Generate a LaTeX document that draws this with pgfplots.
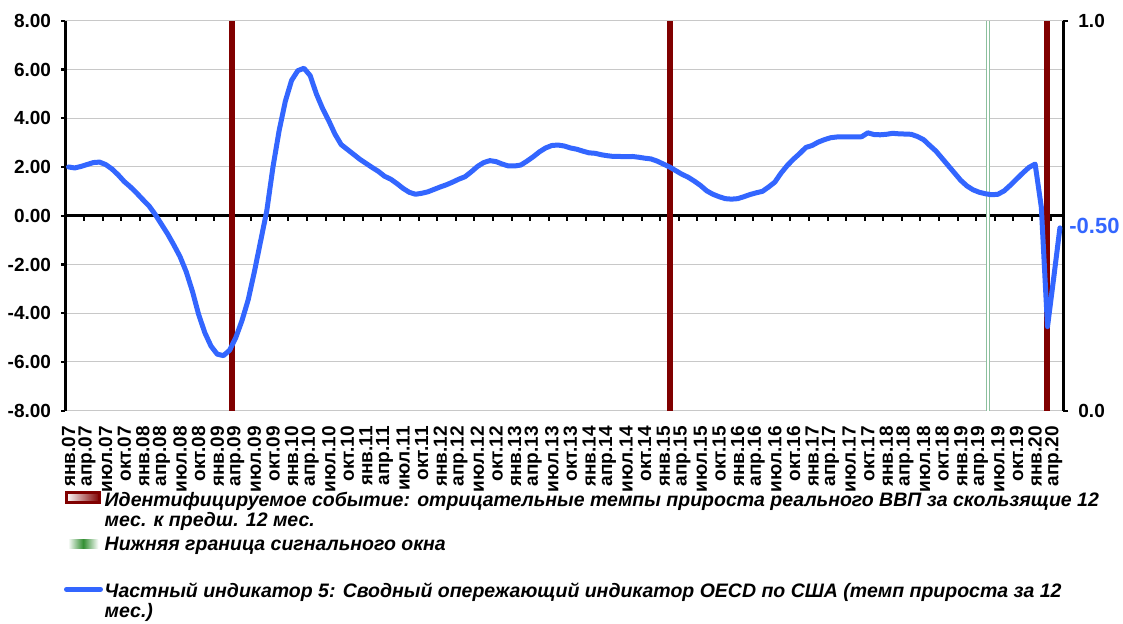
\documentclass[border=0pt]{standalone}
\usepackage{fontspec}
\setmainfont{Liberation Sans}
\usepackage{pgfplots}
\usepackage{pgfplotstable}
\pgfplotsset{compat=1.18}
\definecolor{cliblue}{RGB}{51,102,255}
\definecolor{eventred}{RGB}{128,0,0}
\definecolor{wingreen}{RGB}{140,192,158}
\definecolor{gridgray}{RGB}{200,200,200}

% OECD CLI for the US, 12-month growth, Jan 2007 (0) .. May 2020 (160)
\pgfplotstableread{
idx val
0 2.00
1 1.96
2 2.02
3 2.10
4 2.18
5 2.20
6 2.10
7 1.92
8 1.68
9 1.40
10 1.18
11 0.93
12 0.66
13 0.40
14 0.05
15 -0.35
16 -0.75
17 -1.20
18 -1.68
19 -2.30
20 -3.10
21 -4.05
22 -4.80
23 -5.35
24 -5.68
25 -5.74
26 -5.52
27 -5.00
28 -4.30
29 -3.45
30 -2.30
31 -1.05
32 0.20
33 2.00
34 3.50
35 4.70
36 5.55
37 5.95
38 6.05
39 5.75
40 5.00
41 4.40
42 3.90
43 3.35
44 2.92
45 2.72
46 2.52
47 2.32
48 2.15
49 1.98
50 1.82
51 1.62
52 1.50
53 1.32
54 1.12
55 0.96
56 0.88
57 0.92
58 0.98
59 1.08
60 1.18
61 1.27
62 1.38
63 1.50
64 1.60
65 1.80
66 2.02
67 2.18
68 2.26
69 2.22
70 2.12
71 2.04
72 2.04
73 2.08
74 2.24
75 2.42
76 2.62
77 2.78
78 2.88
79 2.90
80 2.86
81 2.78
82 2.73
83 2.65
84 2.58
85 2.56
86 2.50
87 2.46
88 2.43
89 2.43
90 2.42
91 2.43
92 2.40
93 2.36
94 2.33
95 2.24
96 2.12
97 2.00
98 1.85
99 1.70
100 1.58
101 1.42
102 1.24
103 1.02
104 0.88
105 0.78
106 0.70
107 0.68
108 0.70
109 0.78
110 0.87
111 0.94
112 1.00
113 1.18
114 1.38
115 1.75
116 2.06
117 2.32
118 2.55
119 2.80
120 2.88
121 3.02
122 3.12
123 3.20
124 3.23
125 3.23
126 3.23
127 3.23
128 3.24
129 3.40
130 3.33
131 3.32
132 3.34
133 3.38
134 3.36
135 3.35
136 3.34
137 3.25
138 3.12
139 2.88
140 2.65
141 2.35
142 2.05
143 1.75
144 1.45
145 1.22
146 1.06
147 0.96
148 0.90
149 0.86
150 0.88
151 1.02
152 1.25
153 1.50
154 1.75
155 1.98
156 2.12
157 0.35
158 -4.55
159 -2.55
160 -0.50
}\cli

\pgfplotsset{
  chartbox/.style={
    at={(0pt,0pt)}, anchor=south west,
    scale only axis, width=498.8pt, height=195pt,
    xmin=-0.5, xmax=160.5, clip=false,
  },
  tlfont/.style={font=\fontsize{9.5}{10}\selectfont\bfseries},
}

\begin{document}
\begin{tikzpicture}
\useasboundingbox (-32.7pt,-106.15pt) rectangle (528.8pt,205.35pt);

% primary axis: grid, zero line, left scale, month labels
\begin{axis}[
  chartbox,
  ymin=-8, ymax=8,
  axis x line*=bottom, axis y line*=left,
  x axis line style={draw=gridgray, line width=0.5pt, -},
  y axis line style={draw=black, line width=1.5pt, -},
  ytick={-8,-6,...,8},
  yticklabels={-8.00,-6.00,-4.00,-2.00,0.00,2.00,4.00,6.00,8.00},
  ymajorgrids, major grid style={draw=gridgray, line width=0.5pt},
  ytick style={draw=black, line width=1.2pt},
  tick align=outside, major tick length=2pt,
  xtick={0,3,...,159},
  xtick style={draw=none},
  xticklabels={янв.07,апр.07,июл.07,окт.07,янв.08,апр.08,июл.08,окт.08,
    янв.09,апр.09,июл.09,окт.09,янв.10,апр.10,июл.10,окт.10,
    янв.11,апр.11,июл.11,окт.11,янв.12,апр.12,июл.12,окт.12,
    янв.13,апр.13,июл.13,окт.13,янв.14,апр.14,июл.14,окт.14,
    янв.15,апр.15,июл.15,окт.15,янв.16,апр.16,июл.16,окт.16,
    янв.17,апр.17,июл.17,окт.17,янв.18,апр.18,июл.18,окт.18,
    янв.19,апр.19,июл.19,окт.19,янв.20,апр.20},
  tick label style={tlfont},
  x tick label style={rotate=90, anchor=east, inner ysep=0pt, inner xsep=2.5pt},
  xticklabel shift=3pt,
  y tick label style={inner sep=0pt, xshift=-5pt},
]
\draw[black, line width=1.5pt] (axis cs:-0.5,0) -- (axis cs:160.5,0);
\pgfplotsinvokeforeach{2.5,5.5,...,158.5}{
  \draw[black, line width=1pt] (axis cs:#1,0) -- ([yshift=-2.6pt]axis cs:#1,0);
}
\end{axis}

% secondary axis: event bars and signal window bound
\begin{axis}[
  chartbox,
  ymin=0, ymax=1,
  axis x line=none, axis y line*=right,
  y axis line style={draw=black, line width=1.5pt, -},
  ytick={0,1}, yticklabels={0.0,1.0},
  ytick style={draw=black, line width=1.2pt},
  tick align=outside, major tick length=2.5pt,
  tick label style={tlfont},
  y tick label style={inner sep=0pt, xshift=5pt},
]
\addplot[eventred, line width=3pt] coordinates {(26.4,0) (26.4,1)};
\addplot[eventred, line width=3pt] coordinates {(97.1,0) (97.1,1)};
\addplot[eventred, line width=3pt] coordinates {(157.9,0) (157.9,1)};
\addplot[wingreen, line width=2pt] coordinates {(148.4,0) (148.4,1)};
\addplot[white, line width=0.6pt] coordinates {(148.4,0) (148.4,1)};
\end{axis}

% indicator line
\begin{axis}[
  chartbox,
  ymin=-8, ymax=8,
  axis lines=none,
]
\addplot[cliblue, line width=2.5pt, line join=round, line cap=round] table[x=idx, y=val] {\cli};
\node[anchor=west, inner sep=0pt, text=cliblue, font=\fontsize{11}{12}\selectfont\bfseries]
  at (axis cs:160.5,-0.42) [xshift=3pt] {-0.50};
\end{axis}

% legend
\begin{scope}[font=\fontsize{9.75}{10}\selectfont\bfseries\itshape]
\draw[eventred, line width=1.5pt, left color=white, right color=eventred]
  (0.3pt,-41pt) rectangle (17pt,-46pt);
\node[anchor=base west, inner sep=0pt] at (19.45pt,-48pt)
  {Идентифицируемое событие: отрицательные темпы прироста реального ВВП за скользящие 12};
\node[anchor=base west, inner sep=0pt] at (19.45pt,-58pt) {мес. к предш. 12 мес.};
\shade[left color=white, right color=white, middle color=green!45!black!80]
  (1.3pt,-64.6pt) rectangle (16.5pt,-68.7pt);
\node[anchor=base west, inner sep=0pt] at (19.45pt,-70pt) {Нижняя граница сигнального окна};
\draw[cliblue, line width=2.4pt, line cap=round] (0.5pt,-89.3pt) -- (17.6pt,-89.3pt);
\node[anchor=base west, inner sep=0pt] at (19.45pt,-93.3pt)
  {Частный индикатор 5: Сводный опережающий индикатор OECD по США (темп прироста за 12};
\node[anchor=base west, inner sep=0pt] at (19.45pt,-103.3pt) {мес.)};
\end{scope}
\end{tikzpicture}
\end{document}
